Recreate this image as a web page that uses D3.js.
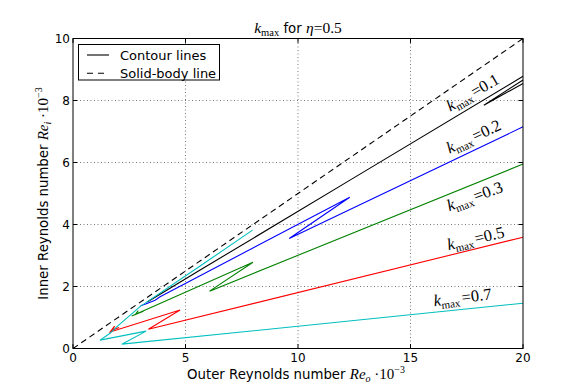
<!DOCTYPE html>
<html>
<head>
<meta charset="utf-8">
<script src="https://cdn.jsdelivr.net/npm/d3@7"></script>
<style>
  body { margin: 0; background: #fff; }
  text { font-family: "DejaVu Sans", sans-serif; fill: #000; }
  .math { font-family: "Liberation Serif", "DejaVu Serif", serif; }
</style>
</head>
<body>
<svg id="chart" width="581" height="388"></svg>
<script>
// tick values
const xTicks = [0, 5, 10, 15, 20]
const yTicks = [0, 2, 4, 6, 8, 10]

// contour levels and their traced paths (Re_o, Re_i) * 1e-3
const kLevels = ['0.1', '0.2', '0.3', '0.5', '0.7']
const k01 = [[3.3, 1.5], [3.87, 1.75], [5.65, 2.53], [12.33, 5.44], [20, 8.78]]
const k01tip = [[20, 8.66], [18.26, 7.85], [20, 8.55]]
const k02 = [[20, 7.15], [9.61, 3.55], [12.3, 4.88], [3.87, 1.67], [3.65, 1.56], [3.2, 1.43], [3.0, 1.38]]
const k03 = [[20, 5.95], [6.07, 1.85], [8.0, 2.78], [2.61, 1.05], [3.13, 1.2], [2.8, 1.12], [2.9, 1.22]]
const k05 = [[20, 3.59], [3.35, 0.62], [4.76, 1.24], [1.65, 0.53], [1.85, 0.72], [1.75, 0.6], [2.05, 0.68]]
const k07 = [[7.98, 3.82], [5.65, 2.66], [2.98, 1.35], [1.94, 0.7], [1.65, 0.49], [1.2, 0.27], [3.25, 0.56], [2.17, 0.14], [20, 1.46]]
const solidBody = [[0, 0], [20, 10]]

const width = 581, height = 388
const margin = {left: 73, right: 58, top: 38.5, bottom: 39.5}

const svg = d3.select('#chart')
const x = d3.scaleLinear().domain([0, 20]).range([margin.left, width - margin.right])
const y = d3.scaleLinear().domain([0, 10]).range([height - margin.bottom, margin.top])

// grid
svg.append('g').selectAll('line').data(xTicks.slice(1, -1)).enter().append('line')
    .attr('x1', d => x(d)).attr('x2', d => x(d))
    .attr('y1', y(0)).attr('y2', y(10))
    .attr('stroke', '#555').attr('stroke-width', 0.8).attr('stroke-dasharray', '1,2.5')
svg.append('g').selectAll('line').data(yTicks.slice(1, -1)).enter().append('line')
    .attr('y1', d => y(d)).attr('y2', d => y(d))
    .attr('x1', x(0)).attr('x2', x(20))
    .attr('stroke', '#555').attr('stroke-width', 0.8).attr('stroke-dasharray', '1,2.5')

const line = d3.line().x(d => x(d[0])).y(d => y(d[1]))
const plotArea = svg.append('g')

const series = [
    {pts: k01, color: '#000000'},
    {pts: k01tip, color: '#000000'},
    {pts: k02, color: '#0000ff'},
    {pts: k03, color: '#008000'},
    {pts: k05, color: '#ff0000'},
    {pts: k07, color: '#00bfbf'}
]
plotArea.selectAll('path.contour').data(series).enter().append('path')
    .attr('class', 'contour')
    .attr('d', d => line(d.pts))
    .attr('fill', 'none')
    .attr('stroke', d => d.color)
    .attr('stroke-width', 1.1)

plotArea.append('path')
    .attr('d', line(solidBody))
    .attr('fill', 'none')
    .attr('stroke', '#000')
    .attr('stroke-width', 1.1)
    .attr('stroke-dasharray', '6,4')

// contour labels: anchor in data coords + rotation
const labelLayout = [[17.76, 8.27, -30], [17.8, 6.85, -25], [17.85, 4.92, -20], [17.89, 3.56, -13], [17.31, 1.66, -7]]

const mathLabel = (g, val) => {
    const t = g.append('text').attr('class', 'math').attr('text-anchor', 'middle')
        .attr('dy', '0.35em').style('font-size', '16.5px')
    t.append('tspan').style('font-style', 'italic').text('k')
    t.append('tspan').attr('dy', 3.5).style('font-size', '11px').text('max')
    t.append('tspan').attr('dy', -3.5).attr('dx', 2).text('=' + val)
}
kLevels.forEach((k, i) => {
    const p = labelLayout[i]
    const g = svg.append('g').attr('transform', `translate(${x(p[0])},${y(p[1])}) rotate(${p[2]})`)
    mathLabel(g, k)
})

// frame
svg.append('rect')
    .attr('x', x(0)).attr('y', y(10))
    .attr('width', x(20) - x(0)).attr('height', y(0) - y(10))
    .attr('fill', 'none').attr('stroke', '#000').attr('stroke-width', 1)

// ticks (inward, all sides)
const tl = 4.4
xTicks.forEach(v => {
    svg.append('line').attr('x1', x(v)).attr('x2', x(v)).attr('y1', y(0)).attr('y2', y(0) - tl).attr('stroke', '#000')
    svg.append('line').attr('x1', x(v)).attr('x2', x(v)).attr('y1', y(10)).attr('y2', y(10) + tl).attr('stroke', '#000')
    svg.append('text').attr('x', x(v)).attr('y', y(0) + 13).attr('text-anchor', 'middle')
        .style('font-size', '12px').text(v)
})
yTicks.forEach(v => {
    svg.append('line').attr('y1', y(v)).attr('y2', y(v)).attr('x1', x(0)).attr('x2', x(0) + tl).attr('stroke', '#000')
    svg.append('line').attr('y1', y(v)).attr('y2', y(v)).attr('x1', x(20)).attr('x2', x(20) - tl).attr('stroke', '#000')
    svg.append('text').attr('x', x(0) - 3).attr('y', y(v) + 4).attr('text-anchor', 'end')
        .style('font-size', '12px').text(v)
})

// title
const title = svg.append('text').attr('x', (x(0) + x(20)) / 2).attr('y', 33)
    .attr('text-anchor', 'middle').style('font-size', '13.3px')
title.append('tspan').attr('class', 'math').style('font-style', 'italic').style('font-size', '15.5px').text('k')
title.append('tspan').attr('class', 'math').attr('dy', 3).style('font-size', '10.5px').text('max')
title.append('tspan').attr('dy', -3).text(' for ')
title.append('tspan').attr('class', 'math').style('font-style', 'italic').style('font-size', '15.5px').text('η')
title.append('tspan').attr('class', 'math').style('font-size', '15.5px').text('=0.5')

// x label
const xl = svg.append('text').attr('x', 296).attr('y', 379).attr('text-anchor', 'middle').style('font-size', '13.3px')
xl.append('tspan').text('Outer Reynolds number ')
xl.append('tspan').attr('class', 'math').style('font-style', 'italic').style('font-size', '15px').text('Re')
xl.append('tspan').attr('class', 'math').style('font-style', 'italic').style('font-size', '10px').attr('dy', 3).text('o')
xl.append('tspan').attr('class', 'math').style('font-size', '15px').attr('dy', -3).text(' ·10')
xl.append('tspan').attr('class', 'math').style('font-size', '10px').attr('dy', -6).text('−3')

// y label
const yl = svg.append('text').attr('transform', `translate(48,${(y(0) + y(10)) / 2}) rotate(-90)`)
    .attr('text-anchor', 'middle').style('font-size', '13.3px')
yl.append('tspan').text('Inner Reynolds number ')
yl.append('tspan').attr('class', 'math').style('font-style', 'italic').style('font-size', '15px').text('Re')
yl.append('tspan').attr('class', 'math').style('font-style', 'italic').style('font-size', '10px').attr('dy', 3).text('i')
yl.append('tspan').attr('class', 'math').style('font-size', '15px').attr('dy', -3).text(' ·10')
yl.append('tspan').attr('class', 'math').style('font-size', '10px').attr('dy', -6).text('−3')

// legend
const legend = svg.append('g')
legend.append('rect').attr('x', 78.5).attr('y', 44.5).attr('width', 141).attr('height', 35.5)
    .attr('fill', '#fff').attr('stroke', '#000').attr('stroke-width', 1)
const legendItems = [{name: 'Contour lines', dash: null}, {name: 'Solid-body line', dash: '6,5'}]
legendItems.forEach((it, i) => {
    const cy = 55 + i * 18.3
    legend.append('line').attr('x1', 87).attr('x2', 109).attr('y1', cy).attr('y2', cy)
        .attr('stroke', '#000').attr('stroke-width', 1.1).attr('stroke-dasharray', it.dash)
    legend.append('text').attr('x', 120).attr('y', cy + 4.5).style('font-size', '13px').text(it.name)
})
</script>
</body>
</html>
